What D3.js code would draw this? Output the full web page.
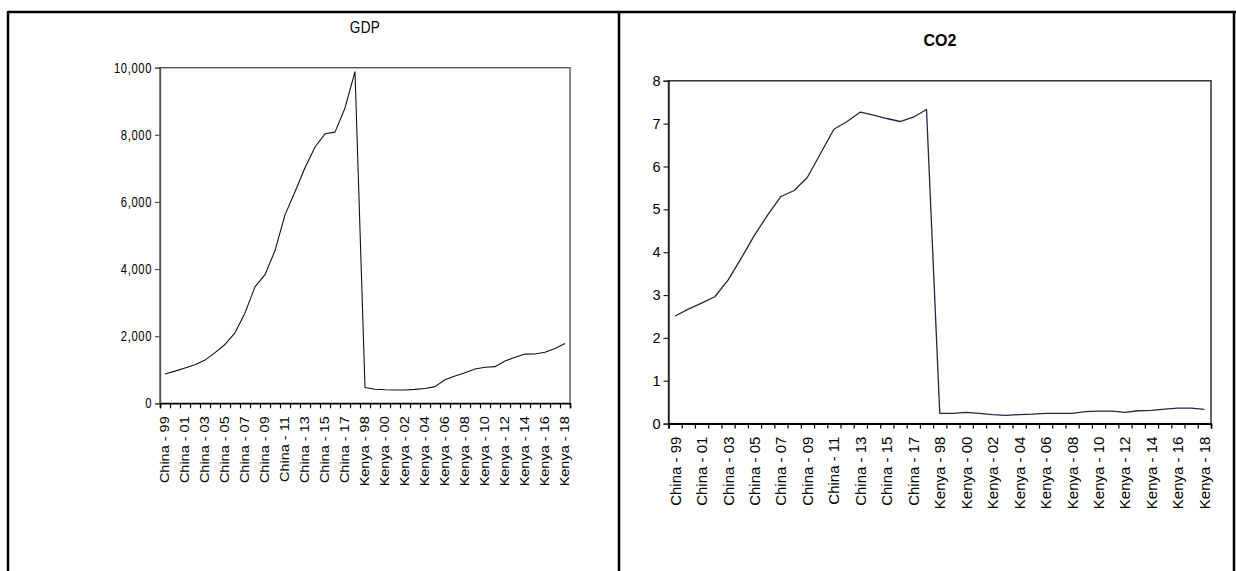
<!DOCTYPE html>
<html>
<head>
<meta charset="utf-8">
<script src="https://cdn.jsdelivr.net/npm/d3@7"></script>
<style>
  html, body { margin: 0; padding: 0; background: #fff; }
  svg { display: block; }
</style>
</head>
<body>
<svg id="chart" width="1236" height="571"></svg>
<script>
// Observation keys: China 1999-2018, then Kenya 1998-2018
const chinaYears = ["99","00","01","02","03","04","05","06","07","08","09","10","11","12","13","14","15","16","17","18"];
const kenyaYears = ["98","99","00","01","02","03","04","05","06","07","08","09","10","11","12","13","14","15","16","17","18"];

// GDP per capita (current US$)
const gdpChina = [873, 959, 1053, 1149, 1288, 1509, 1753, 2099, 2694, 3468, 3832, 4550, 5614, 6301, 7020, 7636, 8030, 8080, 8800, 9880];
const gdpKenya = [470, 420, 402, 398, 397, 415, 440, 498, 700, 815, 912, 1020, 1072, 1092, 1262, 1370, 1466, 1468, 1520, 1636, 1785];

// CO2 emissions (metric tons per capita)
const co2China = [2.51, 2.67, 2.81, 2.96, 3.35, 3.86, 4.40, 4.87, 5.30, 5.44, 5.75, 6.31, 6.87, 7.05, 7.27, 7.20, 7.12, 7.05, 7.15, 7.33];
const co2Kenya = [0.24, 0.24, 0.26, 0.24, 0.21, 0.19, 0.21, 0.22, 0.24, 0.24, 0.24, 0.28, 0.29, 0.29, 0.26, 0.30, 0.31, 0.34, 0.36, 0.36, 0.33];

const gdpTicks = [0, 2000, 4000, 6000, 8000, 10000];
const co2Ticks = [0, 1, 2, 3, 4, 5, 6, 7, 8];

const obsLabels = chinaYears.map(y => "China - " + y).concat(kenyaYears.map(y => "Kenya - " + y));
const gdpValues = gdpChina.concat(gdpKenya);
const co2Values = co2China.concat(co2Kenya);

const svg = d3.select("#chart");
const sansFont = "'Liberation Sans', Arial, sans-serif";

// page frame: two cells side by side
const frame = svg.append("g").attr("stroke", "#000").attr("stroke-width", 2.5);
frame.append("line").attr("x1", 8).attr("x2", 1236).attr("y1", 12).attr("y2", 12);
frame.append("line").attr("x1", 8).attr("x2", 8).attr("y1", 11).attr("y2", 571);
frame.append("line").attr("x1", 619).attr("x2", 619).attr("y1", 11).attr("y2", 571);
frame.append("line").attr("x1", 1234).attr("x2", 1234).attr("y1", 11).attr("y2", 571);

function drawPanel(cfg) {
  const g = svg.append("g");
  const n = cfg.values.length;
  const band = d3.scaleBand().domain(d3.range(n)).range([cfg.left, cfg.right]).paddingInner(0).paddingOuter(0);
  const edge = d3.scaleLinear().domain([0, n]).range([cfg.left, cfg.right]);
  const y = d3.scaleLinear().domain(cfg.yDomain).range([cfg.bottom, cfg.top]);
  const cx = i => band(i) + band.bandwidth() / 2;

  // plot box
  g.append("rect")
    .attr("x", cfg.left).attr("y", cfg.top)
    .attr("width", cfg.right - cfg.left).attr("height", cfg.bottom - cfg.top)
    .attr("fill", "none").attr("stroke", cfg.boxColor).attr("stroke-width", 1.4);

  // y axis (text can be condensed horizontally)
  const yAxis = g.append("g")
    .attr("transform", `translate(${cfg.left},0)`)
    .call(d3.axisLeft(y).tickValues(cfg.yTicks).tickSize(5).tickPadding(3).tickFormat(cfg.yFormat));
  yAxis.select(".domain").attr("stroke", cfg.boxColor).attr("stroke-width", 1.4);
  yAxis.selectAll(".tick line").attr("stroke", cfg.boxColor).attr("stroke-width", 1.2);
  yAxis.selectAll(".tick text")
    .attr("fill", "#000")
    .attr("x", -8 / cfg.yScaleX)
    .attr("transform", `scale(${cfg.yScaleX},1)`)
    .style("font-family", sansFont)
    .style("font-size", cfg.yFontSize + "px")
    .style("letter-spacing", cfg.yLetterSpacing + "px");

  // x axis: tick marks at every observation boundary
  const xAxis = g.append("g")
    .attr("transform", `translate(0,${cfg.bottom})`)
    .call(d3.axisBottom(edge).tickValues(d3.range(n + 1)).tickSize(5).tickFormat(""));
  xAxis.select(".domain").attr("stroke", "#000").attr("stroke-width", 1.6);
  xAxis.selectAll(".tick line").attr("stroke", "#000").attr("stroke-width", 1.2);

  // rotated category labels on every second observation
  const labelIdx = d3.range(0, n, 2);
  g.append("g").selectAll("text")
    .data(labelIdx)
    .join("text")
    .attr("transform", i => `translate(${cx(i)},${cfg.bottom + cfg.labelGap}) rotate(-90) scale(1,${cfg.labelSquash})`)
    .attr("text-anchor", "end")
    .attr("dominant-baseline", "central")
    .style("font-family", sansFont)
    .style("font-size", cfg.xFontSize + "px")
    .attr("fill", "#000")
    .text(i => obsLabels[i]);

  // series line
  const line = d3.line().x((d, i) => cx(i)).y(d => y(d));
  g.append("path")
    .datum(cfg.values)
    .attr("d", line)
    .attr("fill", "none")
    .attr("stroke", cfg.lineColor)
    .attr("stroke-width", cfg.lineWidth)
    .attr("stroke-linejoin", "round");

  // title
  g.append("text")
    .attr("transform", `translate(${cfg.titleX},${cfg.titleY}) scale(${cfg.titleScaleX},1)`)
    .attr("text-anchor", "middle")
    .style("font-family", sansFont)
    .style("font-size", cfg.titleSize + "px")
    .style("font-weight", cfg.titleWeight)
    .style("letter-spacing", cfg.titleLetterSpacing + "px")
    .attr("fill", "#000")
    .text(cfg.title);
}

drawPanel({
  title: "GDP", titleX: 365, titleY: 33, titleSize: 16, titleWeight: "normal",
  titleScaleX: 0.85, titleLetterSpacing: 0.5,
  values: gdpValues, yDomain: [0, 10000], yTicks: gdpTicks, yFormat: d3.format(","),
  yFontSize: 14, yScaleX: 0.8, yLetterSpacing: 0.8,
  left: 160, right: 570, top: 67.7, bottom: 403.3,
  boxColor: "#555", lineColor: "#111", lineWidth: 1.1,
  xFontSize: 14.5, labelSquash: 0.85, labelGap: 13
});

drawPanel({
  title: "CO2", titleX: 940, titleY: 46, titleSize: 16, titleWeight: "bold",
  titleScaleX: 1, titleLetterSpacing: 0,
  values: co2Values, yDomain: [0, 8], yTicks: co2Ticks, yFormat: d3.format("d"),
  yFontSize: 14.5, yScaleX: 1, yLetterSpacing: 0,
  left: 668.5, right: 1211, top: 80.8, bottom: 423.6,
  boxColor: "#222", lineColor: "#2a2346", lineWidth: 1.3,
  xFontSize: 15, labelSquash: 1, labelGap: 13
});
</script>
</body>
</html>
